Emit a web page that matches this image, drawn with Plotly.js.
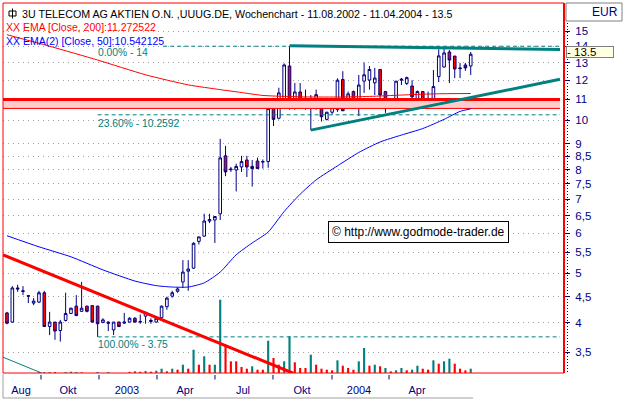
<!DOCTYPE html>
<html><head><meta charset="utf-8">
<script src="https://cdn.plot.ly/plotly-3.0.1.min.js"></script>
<style>html,body{margin:0;padding:0;background:#fff;}#chart{width:624px;height:399px;}</style>
</head><body><div id="chart"></div>
<script>
// ---- weekly OHLC data, 11.08.2002 - 11.04.2004 (week index 0..87) ----
const open  = [4.18,4.01,4.68,4.62,4.52,4.37,4.39,4.58,3.93,4.01,3.86,4.04,4.17,4.31,4.21,4.31,4.32,4.31,4.00,4.01,3.87,4.01,3.99,4.01,4.08,4.01,4.12,4.02,4.01,4.09,4.30,4.51,4.61,4.81,5.05,5.12,5.78,5.92,6.34,6.37,6.55,8.52,8.00,7.99,8.10,8.36,8.12,8.32,8.28,8.30,10.75,10.10,10.88,12.80,10.93,11.38,11.00,10.95,10.93,10.95,10.05,10.38,10.50,12.04,10.97,11.40,10.93,11.95,12.01,11.86,12.60,11.40,10.78,10.72,12.00,11.83,11.69,10.97,11.40,10.95,11.05,12.20,12.74,13.64,13.39,12.69,12.86,12.80];
const high  = [4.20,4.72,4.75,4.72,4.53,4.47,4.62,4.62,4.20,4.01,4.05,4.58,4.28,4.53,4.81,4.32,4.33,4.32,4.08,4.02,4.01,4.02,4.18,4.10,4.10,4.15,4.20,4.08,4.10,4.32,4.50,4.62,4.69,5.31,5.31,5.76,5.90,6.55,6.55,6.48,9.20,8.91,8.10,8.22,8.52,8.52,8.36,8.45,8.38,10.60,11.07,11.60,12.95,14.00,11.85,11.85,11.50,11.22,11.50,11.07,10.40,10.75,12.10,12.50,11.40,11.45,12.29,13.00,12.80,12.69,12.60,11.40,10.92,11.95,12.12,12.20,12.00,11.45,11.40,11.40,12.57,13.80,13.95,13.76,13.39,12.98,12.98,13.64];
const low   = [3.97,4.00,4.60,4.53,4.37,4.33,4.37,3.93,3.78,3.70,3.67,4.02,4.16,4.12,4.20,4.19,4.00,3.75,4.00,3.85,3.78,3.92,3.98,4.00,4.00,3.98,3.98,3.98,4.00,4.08,4.24,4.48,4.58,4.68,4.62,5.10,5.70,5.90,6.28,5.74,6.37,7.77,7.92,7.25,7.92,7.74,7.41,8.04,8.04,8.07,9.75,10.05,10.80,10.50,10.50,10.72,10.50,9.57,10.50,9.95,10.00,10.27,10.40,10.45,10.90,10.90,10.20,11.33,11.50,11.22,10.72,10.35,10.62,10.62,11.74,11.74,11.07,10.65,10.65,10.72,10.97,11.90,12.70,11.85,12.12,12.12,12.52,12.29];
const close = [3.99,4.68,4.66,4.61,4.51,4.41,4.58,3.93,4.01,3.85,4.01,4.17,4.27,4.13,4.27,4.21,4.01,3.98,4.05,3.99,4.01,3.93,4.01,4.08,4.01,4.02,4.19,4.04,4.08,4.31,4.47,4.58,4.66,5.03,5.10,5.73,5.90,6.34,6.38,6.47,8.44,7.92,8.02,8.12,8.30,8.10,8.04,8.04,8.30,10.55,10.05,11.33,12.86,10.88,11.38,10.93,11.05,10.90,11.24,10.17,10.38,10.60,12.00,10.45,11.28,10.97,11.74,12.30,12.60,12.12,11.22,10.70,10.75,11.95,12.05,12.14,11.13,11.40,10.90,11.05,11.66,13.40,13.58,13.15,12.63,12.65,12.69,13.50];
// weekly volume (display units) and its colour flag (1 = teal, 0 = red)
const volume = [0,0,0,0,0,0,10,10,10,10,0,10,13,10,7,0,0,10,0,10,0,0,0,12,17,12,20,13,23,43,17,43,33,83,43,233,83,167,83,83,733,283,117,117,60,43,67,33,33,323,150,83,117,367,107,50,50,183,83,43,33,27,127,73,50,33,117,250,73,83,67,50,17,27,50,27,33,73,43,33,127,93,117,143,93,43,27,43];
const volUp  = [1,1,1,1,1,1,1,1,1,0,1,1,1,1,0,1,1,1,1,1,1,1,1,0,1,0,1,0,1,1,0,1,0,1,0,1,0,1,0,1,1,0,0,0,0,0,1,0,0,1,0,0,1,1,0,0,0,1,0,0,0,0,1,0,0,0,1,1,0,1,0,1,0,1,1,0,1,1,0,0,1,0,1,1,0,0,0,1];
// moving averages read at sample weeks
const ema200Week = [0,8,17,26,34,40,44,48,55,62,68,74,80,87];
const ema200Val  = [14.75,14.0,13.15,12.3,11.75,11.5,11.35,11.2,11.13,11.12,11.15,11.22,11.28,11.3];
const ema50Week  = [0,6,12,18,24,28,31,34,37,40,43,46,49,52,55,58,62,66,70,74,78,82,85,87];
const ema50Val   = [5.93,5.64,5.39,5.08,4.83,4.73,4.70,4.70,4.79,5.03,5.44,5.74,6.03,6.62,7.16,7.64,8.14,8.65,9.07,9.36,9.64,10.05,10.42,10.54];
// drawn lines (week, price)
const resistWeek = [53, 103.75], resistVal = [14.03, 13.8];
const supportWeek = [57, 103.75], supportVal = [9.57, 12.05];
const downWeek = [-0.75, 53.7], downVal = [5.44, 3.18];
const lowTealWeek = [-0.75, 6.6], lowTealVal = [3.42, 3.18];
const fibLevel = [14, 10.2592, 3.75];
const fibStartWeek = [29.3, 17, 17];
const fibText = ['0.00% - 14', '23.60% - 10.2592', '100.00% - 3.75'];
const bandTop = 11.0, bandBottom = 10.56;
const lineEndWeek = 103.75;
// axis labels
const xTickLabels = ['Aug','Okt','2003','Apr','Jul','Okt','2004','Apr'];
const xTickPos = [2.63, 11.44, 22.51, 33.4, 44.28, 55.35, 66.04, 76.92];
const xTickMarks = [6.38, 17.26, 28.14, 39.02, 49.9, 60.98, 71.67];
const yTickVals = [3.5,4,4.5,5,5.5,6,6.5,7,7.5,8,8.5,9,10,11,12,13,14,15];
const yTickText = ['3,5','4','4,5','5','5,5','6','6,5','7','7,5','8','8,5','9','10','11','12','13','14','15'];

const week = open.map((_, i) => i);
const TEAL = '#008080', RED = '#FF0000', NAVY = '#000080', BLUE = '#0000FF';
const FONT = 'Liberation Sans, Arial, sans-serif';
const PX = p => (p - 3) / 561;
const PY = p => (373 - p) / 370;

const traces = [];
traces.push({type: 'bar', x: week, y: volume, yaxis: 'y', xaxis: 'x', width: 0.4,
  marker: {color: volUp.map(u => u ? TEAL : RED), line: {width: 0}}, hoverinfo: 'skip'});
fibLevel.forEach((lv, k) => traces.push({type: 'scatter', mode: 'lines', yaxis: 'y2',
  x: [fibStartWeek[k], lineEndWeek], y: [lv, lv], line: {color: TEAL, width: 1, dash: '4px,3px'}, hoverinfo: 'skip'}));
traces.push({type: 'scatter', mode: 'lines', yaxis: 'y2', x: [-0.75, lineEndWeek], y: [bandBottom, bandBottom],
  line: {color: RED, width: 1}, hoverinfo: 'skip'});
traces.push({type: 'scatter', mode: 'lines', yaxis: 'y2', x: [-0.75, lineEndWeek], y: [bandTop, bandTop],
  fill: 'tonexty', fillcolor: '#FFCCCC', line: {color: RED, width: 3}, hoverinfo: 'skip'});
traces.push({type: 'scatter', mode: 'lines', yaxis: 'y2', x: ema200Week, y: ema200Val,
  line: {color: RED, width: 1, shape: 'spline', smoothing: 0.6}, hoverinfo: 'skip'});
traces.push({type: 'scatter', mode: 'lines', yaxis: 'y2', x: ema50Week, y: ema50Val,
  line: {color: BLUE, width: 1, shape: 'spline', smoothing: 0.6}, hoverinfo: 'skip'});
traces.push({type: 'candlestick', x: week, open: open, high: high, low: low, close: close, yaxis: 'y2',
  whiskerwidth: 0,
  increasing: {fillcolor: '#FFFFFF', line: {color: NAVY, width: 1}},
  decreasing: {fillcolor: RED, line: {color: NAVY, width: 1}}, hoverinfo: 'skip'});
traces.push({type: 'scatter', mode: 'lines', yaxis: 'y2', x: downWeek, y: downVal, line: {color: RED, width: 3}, hoverinfo: 'skip'});
traces.push({type: 'scatter', mode: 'lines', yaxis: 'y2', x: lowTealWeek, y: lowTealVal, line: {color: TEAL, width: 1}, hoverinfo: 'skip'});
traces.push({type: 'scatter', mode: 'lines', yaxis: 'y2', x: resistWeek, y: resistVal, line: {color: TEAL, width: 3}, hoverinfo: 'skip'});
traces.push({type: 'scatter', mode: 'lines', yaxis: 'y2', x: supportWeek, y: supportVal, line: {color: TEAL, width: 3}, hoverinfo: 'skip'});

const shapes = [
  {type: 'rect', xref: 'paper', yref: 'paper', x0: 0, x1: 1, y0: 0, y1: 1, line: {color: RED, width: 1}, layer: 'above'},
  {type: 'line', xref: 'paper', yref: 'paper', x0: 1, x1: 1, y0: 0, y1: 1, line: {color: RED, width: 2}, layer: 'above'},
  {type: 'line', xref: 'paper', yref: 'paper', x0: PX(567.5), x1: PX(567.5), y0: PY(372), y1: PY(22), line: {color: NAVY, width: 1, dash: '1px,2px'}},
  {type: 'rect', xref: 'paper', yref: 'paper', x0: PX(566), x1: PX(622), y0: PY(21), y1: PY(3), line: {color: '#808080', width: 1}},
  {type: 'line', xref: 'paper', yref: 'paper', x0: PX(3), x1: PX(3), y0: PY(374), y1: PY(398), line: {color: '#A0A0A0', width: 1}},
  {type: 'line', xref: 'paper', yref: 'paper', x0: PX(3), x1: PX(473), y0: PY(398), y1: PY(398), line: {color: '#A0A0A0', width: 1}},
  {type: 'rect', xref: 'paper', yref: 'paper', x0: PX(9), x1: PX(16), y0: PY(16), y1: PY(11), line: {color: '#000', width: 1}},
  {type: 'line', xref: 'paper', yref: 'paper', x0: PX(12.5), x1: PX(12.5), y0: PY(18.5), y1: PY(8.5), line: {color: '#000', width: 1}}
];
xTickMarks.forEach(t => shapes.push({type: 'line', xref: 'x', yref: 'paper', x0: t, x1: t, y0: PY(375), y1: PY(379.5), line: {color: NAVY, width: 1}}));

const ann = (text, x, y, color, size, extra) => Object.assign({text: text, xref: 'paper', yref: 'paper', x: PX(x), y: PY(y),
  xanchor: 'left', yanchor: 'middle', showarrow: false, font: {family: FONT, size: size, color: color}}, extra || {});
const annotations = [
  ann('3U TELECOM AG AKTIEN O.N. ,UUUG.DE, Wochenchart - 11.08.2002 - 11.04.2004 - 13.5', 20, 13.5, '#000', 10.7),
  ann('XX EMA [Close, 200]:11.272522', 4, 26.5, RED, 10.5),
  ann('XX EMA(2) [Close, 50]:10.542125', 4, 41, BLUE, 10.5),
  ann(fibText[0], 96, 53, TEAL, 10.3),
  ann(fibText[1], 96, 123, TEAL, 10.3),
  ann(fibText[2], 96, 344, TEAL, 10.3),
  ann('© http://www.godmode-trader.de', 418.5, 232, '#000', 12, {xanchor: 'center', bgcolor: '#FFFFFF', bordercolor: '#000', borderwidth: 1, borderpad: 3}),
  ann('EUR', 620, 12, NAVY, 12, {xanchor: 'right'}),
  ann('- 13.5', 566, 52.5, '#000', 11.5, {width: 46, height: 10, align: 'left', valign: 'middle', bgcolor: '#FFFFE1', bordercolor: '#808080', borderwidth: 1, borderpad: 0})
];

const layout = {
  width: 624, height: 399,
  margin: {l: 3, r: 60, t: 3, b: 26, pad: 0},
  paper_bgcolor: '#FFFFFF', plot_bgcolor: '#FFFFFF',
  showlegend: false, dragmode: false,
  xaxis: {range: [-0.75, 104.5], tickvals: xTickPos, ticktext: xTickLabels, ticks: '', showgrid: false,
    zeroline: false, showline: false, rangeslider: {visible: false}, automargin: false,
    tickfont: {family: FONT, size: 11, color: NAVY}, ticklabelstandoff: 9},
  yaxis: {range: [0, 3700], visible: false, fixedrange: true},
  yaxis2: {type: 'log', range: [0.5029, 1.2312], overlaying: 'y', side: 'right', anchor: 'x',
    tickvals: yTickVals, ticktext: yTickText, ticks: 'outside', ticklen: 5, tickwidth: 1, tickcolor: NAVY,
    tickfont: {family: FONT, size: 11.5, color: NAVY}, ticklabelstandoff: 3,
    showgrid: true, gridcolor: '#A0A0A0', gridwidth: 1, griddash: '1px,4px',
    zeroline: false, showline: false, automargin: false},
  shapes: shapes, annotations: annotations
};

Plotly.newPlot('chart', traces, layout, {staticPlot: true, displayModeBar: false});
</script></body></html>
